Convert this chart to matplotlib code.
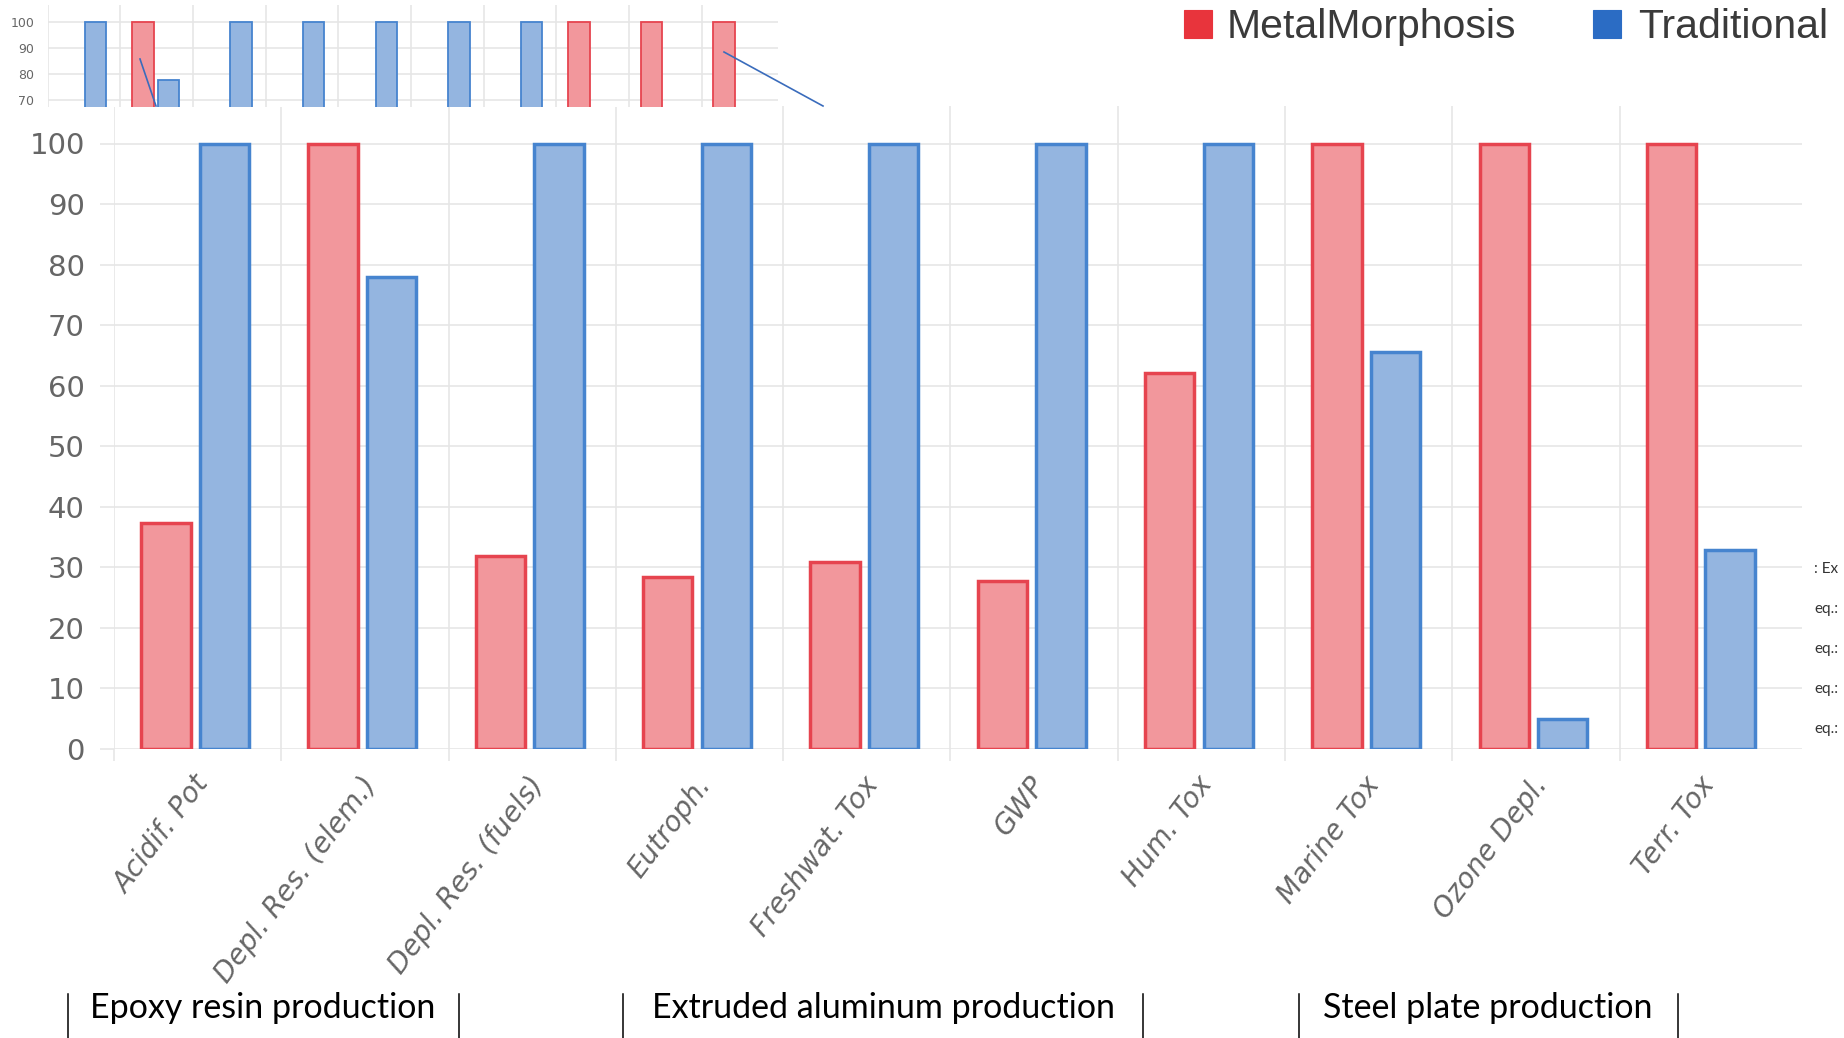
import matplotlib
matplotlib.use("Agg")
import matplotlib.pyplot as plt
import numpy as np
from matplotlib.patches import Rectangle
from matplotlib.lines import Line2D
from matplotlib.transforms import ScaledTranslation

# ---- data -------------------------------------------------------------
categories = ["Acidif. Pot", "Depl. Res. (elem.)", "Depl. Res. (fuels)", "Eutroph.",
              "Freshwat. Tox", "GWP", "Hum. Tox", "Marine Tox", "Ozone Depl.", "Terr. Tox"]
metalmorphosis = [37.3, 100, 31.8, 28.4, 30.9, 27.8, 62.1, 100, 100, 100]
traditional = [100, 77.9, 100, 100, 100, 100, 100, 65.5, 4.9, 32.9]
series_names = ["MetalMorphosis", "Traditional"]
groups = ["Epoxy resin production", "Extruded aluminum production", "Steel plate production"]
yticks_main = list(range(0, 101, 10))
yticks_inset = [70, 80, 90, 100]
side_notes = [": Ex", "eq.:", "eq.:", "eq.:", "eq.:"]

# ---- styling ----------------------------------------------------------
W, H = 1844, 1038
RED_FILL, RED_EDGE = "#f2979c", "#e6444f"
BLUE_FILL, BLUE_EDGE = "#94b5e0", "#4684cf"
RED_KEY, BLUE_KEY = "#e8343c", "#2b6cc4"
GRID = "#e6e6e6"
TICK_TXT = "#666666"

fig = plt.figure(figsize=(W / 100, H / 100), dpi=100)
fig.patch.set_facecolor("white")


def fx(px):
    return px / W


def fy(py):
    return 1 - py / H


x = np.arange(len(categories))
RED_OFF, BLUE_OFF, BAR_W = 0.31, 0.66, 0.295


def draw_bars(ax, lw):
    ax.bar(x + RED_OFF, metalmorphosis, BAR_W, color=RED_FILL, edgecolor=RED_EDGE,
           linewidth=lw, zorder=3, label=series_names[0])
    ax.bar(x + BLUE_OFF, traditional, BAR_W, color=BLUE_FILL, edgecolor=BLUE_EDGE,
           linewidth=lw, zorder=3, label=series_names[1])


def style_grid(ax):
    for s in ax.spines.values():
        s.set_visible(False)
    ax.set_xticks(x, minor=True)
    ax.grid(True, which="minor", axis="x", color=GRID, linewidth=1.2, zorder=0)
    ax.grid(True, which="major", axis="y", color=GRID, linewidth=1.2, zorder=0)


# ---- main chart -------------------------------------------------------
ax = fig.add_axes([fx(114), fy(749), fx(1802) - fx(114), (749 - 106) / H])
draw_bars(ax, 2.5)
ax.set_xlim(0, 10.09)
ax.set_ylim(0, 643 / 6.055)
style_grid(ax)
ax.set_yticks(yticks_main)
ax.set_yticklabels([str(v) for v in yticks_main], fontsize=21, color=TICK_TXT,
                   family="DejaVu Sans")
ax.tick_params(axis="y", which="major", length=10, width=1.2, color=GRID, pad=11)
ax.tick_params(axis="x", which="minor", length=8.6, width=1.2, color=GRID)
ax.set_xticks(x + 0.5)
ax.set_xticklabels(categories, fontsize=20, color=TICK_TXT, family="DejaVu Sans",
                   style="italic", rotation=53, ha="right", va="center",
                   rotation_mode="anchor")
ax.tick_params(axis="x", which="major", length=0, pad=22)
shift = ScaledTranslation(0.06, 0, fig.dpi_scale_trans)
for lbl in ax.get_xticklabels():
    lbl.set_transform(lbl.get_transform() + shift)

# ---- small overview chart ---------------------------------------------
axi = fig.add_axes([fx(47.6), fy(107), (778 - 47.6) / W, (107 - 5) / H], zorder=5)
axi.set_facecolor("white")
draw_bars(axi, 1.3)
axi.set_xlim(0, 10.05)
axi.set_ylim(67.3, 106.7)
style_grid(axi)
axi.set_yticks(yticks_inset)
axi.set_yticklabels([str(v) for v in yticks_inset], fontsize=9, color=TICK_TXT,
                    family="DejaVu Sans")
axi.tick_params(axis="y", which="major", length=0, pad=9.5)
axi.tick_params(axis="x", which="both", length=0, labelbottom=False)
axi.set_xticks([])

# pointer lines over the overview
for (xa, ya), (xb, yb) in [((140, 59), (156, 106)), ((724, 52), (823, 106))]:
    fig.add_artist(Line2D([fx(xa), fx(xb)], [fy(ya), fy(yb)], transform=fig.transFigure,
                          color="#3a6cbc", linewidth=1.2, zorder=10))

# ---- legend -----------------------------------------------------------
for (x0, x1), tx, col, name in [((1184, 1212), 1227, RED_KEY, series_names[0]),
                                ((1593, 1621), 1638, BLUE_KEY, series_names[1])]:
    fig.add_artist(Rectangle((fx(x0), fy(38)), (x1 - x0) / W, 28 / H,
                             transform=fig.transFigure, facecolor=col,
                             edgecolor=col, linewidth=0.8, zorder=10))
    fig.text(fx(tx), fy(27), name, fontsize=29.5, family="Liberation Sans",
             color="#3a3a3a", ha="left", va="center")

# ---- production group captions ----------------------------------------
for cx, name in zip([263, 883, 1488], groups):
    fig.text(fx(cx), fy(1008), name, fontsize=24.5, family="Lato", color="black",
             ha="center", va="center")
for sx in [68, 459, 623, 1143, 1299, 1678]:
    fig.add_artist(Line2D([fx(sx), fx(sx)], [fy(994), fy(1038)],
                          transform=fig.transFigure, color="black", linewidth=1.1))

# ---- notes at the right margin ----------------------------------------
for i, note in enumerate(side_notes):
    fig.text(fx(1814), fy(569 + 40 * i), note, fontsize=11, family="Lato",
             color="#333333", ha="left", va="center")

fig.savefig("out.png", dpi=100, facecolor="white")
